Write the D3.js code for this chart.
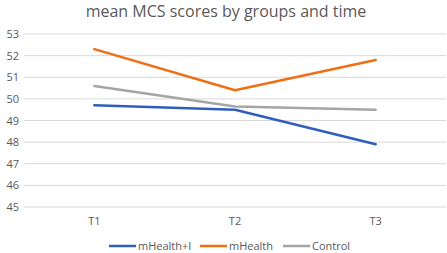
<!DOCTYPE html>
<html>
<head>
<meta charset="utf-8">
<script src="https://cdn.jsdelivr.net/npm/d3@7"></script>
<style>
  body { margin: 0; background: #fff; }
  svg { display: block; font-family: "Open Sans", "Liberation Sans", sans-serif; }
</style>
</head>
<body>
<div id="chart"></div>
<script>
// chart data
const times = ["T1", "T2", "T3"];
const seriesNames = ["mHealth+I", "mHealth", "Control"];
const mHealthI = [49.7, 49.5, 47.9];
const mHealth = [52.3, 50.4, 51.8];
const control = [50.6, 49.65, 49.5];
const yTicks = [45, 46, 47, 48, 49, 50, 51, 52, 53];
const colors = ["#2F5EBE", "#EE6F14", "#A5A5A5"];

const width = 447, height = 253;
const margin = {top: 34, right: 1, bottom: 46, left: 24};

const svg = d3.select("#chart").append("svg")
    .attr("width", width)
    .attr("height", height);

// title
svg.append("text")
    .attr("x", 226)
    .attr("y", 17)
    .attr("text-anchor", "middle")
    .attr("fill", "#595959")
    .style("font-size", "16px")
    .text("mean MCS scores by groups and time");

const x = d3.scaleBand()
    .domain(times)
    .range([margin.left, width - margin.right]);

const y = d3.scaleLinear()
    .domain([45, 53])
    .range([height - margin.bottom, margin.top]);

// gridlines
svg.append("g")
    .selectAll("line")
    .data(yTicks)
    .join("line")
    .attr("x1", margin.left)
    .attr("x2", width - margin.right)
    .attr("y1", d => y(d))
    .attr("y2", d => y(d))
    .attr("stroke", "#d9d9d9")
    .attr("stroke-width", 1);

// y axis labels
const yAxis = svg.append("g")
    .attr("transform", `translate(${margin.left - 5},0)`)
    .call(d3.axisLeft(y).tickValues(yTicks).tickSize(0).tickPadding(0));
yAxis.select(".domain").remove();
yAxis.selectAll("text")
    .attr("fill", "#595959")
    .style("font-size", "11px")
    .style("font-family", "'Open Sans', 'Liberation Sans', sans-serif");

// x axis labels
const xAxis = svg.append("g")
    .attr("transform", `translate(0,${y(45)})`)
    .call(d3.axisBottom(x).tickSize(0).tickPadding(10));
xAxis.select(".domain").remove();
xAxis.selectAll("text")
    .attr("fill", "#595959")
    .style("font-size", "11px")
    .style("font-family", "'Open Sans', 'Liberation Sans', sans-serif");

// lines
const allSeries = [mHealthI, mHealth, control];
const line = d3.line()
    .x((d, i) => x(times[i]) + x.bandwidth() / 2)
    .y(d => y(d));

svg.append("g")
    .selectAll("path")
    .data(allSeries)
    .join("path")
    .attr("d", d => line(d))
    .attr("fill", "none")
    .attr("stroke", (d, i) => colors[i])
    .attr("stroke-width", 2.5)
    .attr("stroke-linecap", "round")
    .attr("stroke-linejoin", "round");

// legend
const legendX = [109, 200, 283];
const legend = svg.append("g")
    .selectAll("g")
    .data(seriesNames)
    .join("g")
    .attr("transform", (d, i) => `translate(${legendX[i]},${246})`);

legend.append("line")
    .attr("x1", 0)
    .attr("x2", 27)
    .attr("stroke", (d, i) => colors[i])
    .attr("stroke-width", 2.5);

legend.append("text")
    .attr("x", 29)
    .attr("dy", "0.35em")
    .attr("fill", "#595959")
    .style("font-size", "11px")
    .text(d => d);
</script>
</body>
</html>
